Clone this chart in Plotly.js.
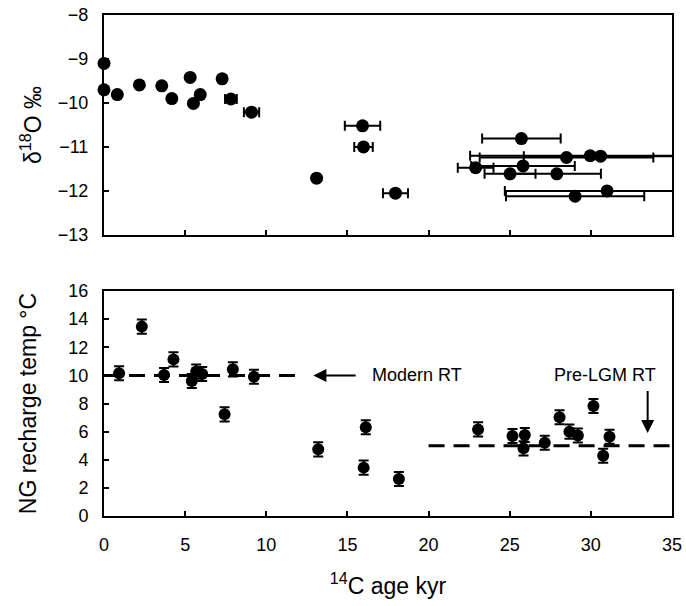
<!DOCTYPE html>
<html>
<head>
<meta charset="utf-8">
<script src="https://cdn.plot.ly/plotly-3.0.1.min.js"></script>
<style>html,body{margin:0;padding:0;background:#fff;}</style>
</head>
<body>
<div id="chart" style="width:686px;height:606px;"></div>
<script>
// Top panel: δ18O vs 14C age
const d18Age = [0, 0, 0.82, 2.18, 3.56, 4.18, 5.31, 5.51, 5.93, 7.28, 7.82, 9.09, 13.1, 15.93, 15.99, 17.96, 22.9, 25.02, 25.72, 25.82, 27.9, 28.5, 29.03, 29.96, 30.6, 31.0];
const d18Val = [-9.1, -9.7, -9.81, -9.59, -9.61, -9.9, -9.42, -10.01, -9.81, -9.45, -9.91, -10.21, -11.71, -10.52, -11.0, -12.05, -11.47, -11.61, -10.81, -11.43, -11.61, -11.24, -12.12, -11.2, -11.21, -12.0];
const d18AgeErr = [0, 0, 0, 0, 0, 0, 0, 0, 0, 0, 0.36, 0.47, 0.2, 1.09, 0.57, 0.77, 1.1, 1.57, 2.42, 3.19, 2.72, 5.35, 4.26, 7.4, 4.73, 6.3];

// Bottom panel: noble gas recharge temperature vs 14C age
const ngAge = [0.93, 2.33, 3.7, 4.28, 5.41, 5.68, 6.05, 7.94, 9.24, 7.43, 13.2, 16.13, 16.0, 18.17, 23.05, 25.17, 25.93, 25.85, 27.16, 28.07, 28.68, 29.2, 30.16, 30.76, 31.15];
const ngTemp = [10.15, 13.47, 10.03, 11.14, 9.6, 10.27, 10.1, 10.43, 9.91, 7.23, 4.74, 6.31, 3.44, 2.63, 6.16, 5.69, 5.76, 4.81, 5.21, 7.02, 6.0, 5.72, 7.82, 4.29, 5.64];
const ngTempErr = [0.5, 0.5, 0.5, 0.5, 0.5, 0.5, 0.5, 0.5, 0.5, 0.5, 0.5, 0.5, 0.5, 0.5, 0.5, 0.5, 0.5, 0.5, 0.5, 0.5, 0.5, 0.5, 0.5, 0.5, 0.5];

// Reference recharge temperature lines
const modernX = [0, 12];
const modernY = [10, 10];
const preLgmX = [20, 35];
const preLgmY = [5, 5];

const font = {family: 'Arial, "Liberation Sans", sans-serif', color: '#000'};

const traces = [
  {
    x: d18Age, y: d18Val, xaxis: 'x', yaxis: 'y', type: 'scatter', mode: 'markers',
    cliponaxis: false,
    marker: {color: '#000', size: 13},
    error_x: {type: 'data', array: d18AgeErr, visible: true, color: '#000', thickness: 2, width: 5}
  },
  {
    x: modernX, y: modernY, xaxis: 'x2', yaxis: 'y2', type: 'scatter', mode: 'lines',
    line: {color: '#000', width: 3, dash: '16px,9px'}
  },
  {
    x: preLgmX, y: preLgmY, xaxis: 'x2', yaxis: 'y2', type: 'scatter', mode: 'lines',
    line: {color: '#000', width: 3, dash: '16px,9px'}
  },
  {
    x: ngAge, y: ngTemp, xaxis: 'x2', yaxis: 'y2', type: 'scatter', mode: 'markers',
    cliponaxis: false,
    marker: {color: '#000', size: 12},
    error_y: {type: 'data', array: ngTempErr, visible: true, color: '#000', thickness: 2, width: 5}
  }
];

const axisCommon = {
  showgrid: false, zeroline: false, showline: true, linecolor: '#000', linewidth: 2,
  mirror: true, ticks: 'inside', ticklen: 5, tickwidth: 2, tickcolor: '#000',
  tickfont: Object.assign({size: 18}, font)
};

const layout = {
  width: 686, height: 606,
  margin: {l: 104, r: 14, t: 15, b: 90},
  paper_bgcolor: '#fff', plot_bgcolor: '#fff',
  showlegend: false,
  font: font,
  xaxis: Object.assign({}, axisCommon, {domain: [0, 1], range: [0, 35], dtick: 5, anchor: 'y', showticklabels: false}),
  yaxis: Object.assign({}, axisCommon, {domain: [0.561, 1], range: [-13, -8], dtick: 1, anchor: 'x',
    ticklabelstandoff: 10,
    title: {text: 'δ<sup>18</sup>O ‰', font: Object.assign({size: 23}, font), standoff: 10}}),
  xaxis2: Object.assign({}, axisCommon, {domain: [0, 1], range: [0, 35], dtick: 5, anchor: 'y2',
    ticklabelstandoff: 11,
    title: {text: '<sup>14</sup>C age kyr', font: Object.assign({size: 23}, font), standoff: 24}}),
  yaxis2: Object.assign({}, axisCommon, {domain: [0, 0.449], range: [0, 16], dtick: 2, anchor: 'x2',
    ticklabelstandoff: 10,
    title: {text: 'NG recharge temp °C', font: Object.assign({size: 23}, font), standoff: 25}}),
  annotations: [
    {x: 12.9, y: 10, ax: 15.6, ay: 10, xref: 'x2', yref: 'y2', axref: 'x2', ayref: 'y2',
     showarrow: true, arrowhead: 2, arrowsize: 1.3, arrowwidth: 2, arrowcolor: '#000', text: ''},
    {x: 19.3, y: 10, xref: 'x2', yref: 'y2', text: 'Modern RT', showarrow: false,
     font: Object.assign({size: 18}, font)},
    {x: 33.5, y: 5.9, ax: 33.5, ay: 9.0, xref: 'x2', yref: 'y2', axref: 'x2', ayref: 'y2',
     showarrow: true, arrowhead: 2, arrowsize: 1.3, arrowwidth: 2, arrowcolor: '#000', text: ''},
    {x: 30.9, y: 10, xref: 'x2', yref: 'y2', text: 'Pre-LGM RT', showarrow: false,
     font: Object.assign({size: 18}, font)}
  ]
};

Plotly.newPlot('chart', traces, layout, {displayModeBar: false, staticPlot: true});
</script>
</body>
</html>
